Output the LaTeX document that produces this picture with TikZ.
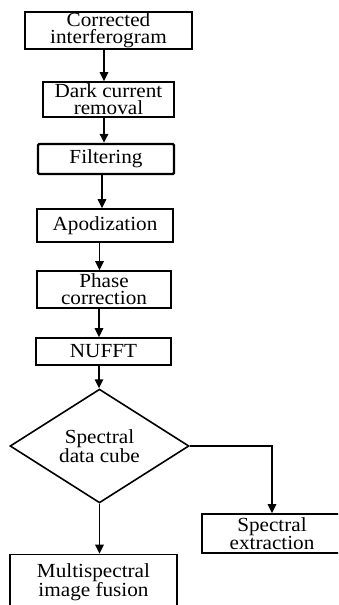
\documentclass[tikz,border=0pt]{standalone}
\usepackage{fontspec}
\setmainfont{Liberation Serif}[FakeStretch=1.06]
\usetikzlibrary{shapes.geometric,arrows.meta}
\begin{document}
\begin{tikzpicture}[x=1pt,y=-1pt,
  every node/.style={font=\fontsize{20}{17.2}\selectfont, align=center, inner sep=0pt},
  box/.style={draw, line width=1.6pt, rectangle},
  thickbox/.style={draw, line width=2.4pt, rectangle, rounded corners=1.2pt},
  dia/.style={draw, line width=1.6pt, diamond, minimum width=179pt, minimum height=88pt},
  arr/.style={line width=1.6pt, -{Triangle[length=9pt,width=8.5pt]}}]
\useasboundingbox (0,0) rectangle (338,605);
\clip (0,0) rectangle (338,605);
\fill[white] (0,0) rectangle (338,605);
\node[box, minimum width=167pt, minimum height=37pt] (b1) at (108.5,30.5) {Corrected\\interferogram};
\node[box, minimum width=131pt, minimum height=35pt] (b2) at (108.5,99.5) {Dark current\\removal};
\node[thickbox, minimum width=136pt, minimum height=30pt] (b3) at (106,159) {Filtering};
\node[box, minimum width=136pt, minimum height=33pt] (b4) at (105,225.5) {Apodization};
\node[box, minimum width=134pt, minimum height=37pt] (b5) at (104,289.5) {Phase\\correction};
\node[box, minimum width=135pt, minimum height=27pt] (b6) at (103.5,351.5) {NUFFT};
\node[dia] (d) at (99.5,446) {Spectral\\data cube};
\node[box, minimum width=140pt, minimum height=39pt] (se) at (272,533.5) {Spectral\hspace{7pt}\\extraction\hspace{7pt}};
\node[box, minimum width=167pt, minimum height=56pt] (mf) at (93.5,582.5) {Multispectral\hspace{4pt}\\image fusion\hspace{4pt}};
\draw[arr] ([xshift=-4.5pt]b1.south) -- ([xshift=-4.5pt]b1.south |- b2.north);
\draw[arr] ([xshift=-4.5pt]b2.south) -- ([xshift=-4.5pt]b2.south |- b3.north);
\draw[arr] ([xshift=-4pt]b3.south) -- ([xshift=-4pt]b3.south |- b4.north);
\draw[arr] ([xshift=-5.5pt]b4.south) -- ([xshift=-5.5pt]b4.south |- b5.north);
\draw[arr] ([xshift=-5pt]b5.south) -- ([xshift=-5pt]b5.south |- b6.north);
\draw[arr] ([xshift=-4.5pt]b6.south) -- ([xshift=-4.5pt]b6.south |- d.north);
\draw[arr] (d.east) -| (se.north);
\draw[arr] (d.south) -- (d.south |- mf.north);
\end{tikzpicture}
\end{document}
